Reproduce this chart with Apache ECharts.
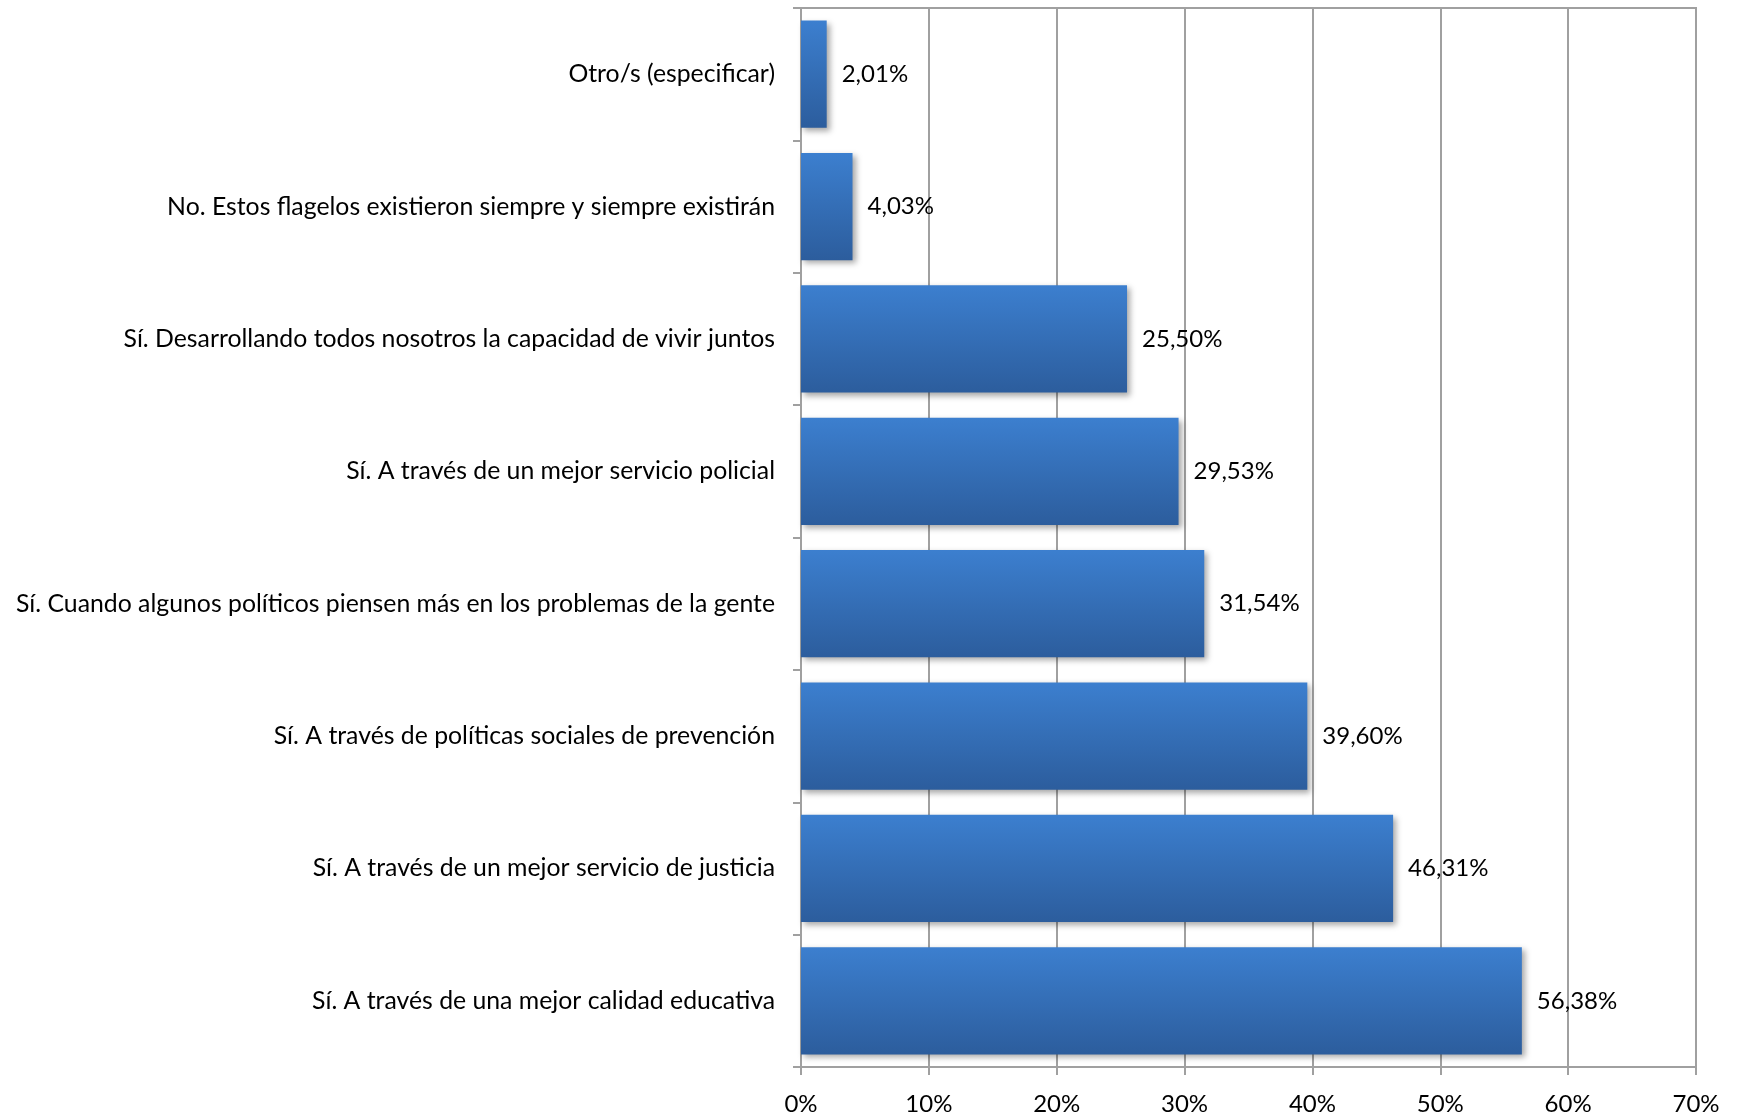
<!DOCTYPE html>
<html>
<head>
<meta charset="utf-8">
<script src="https://cdn.jsdelivr.net/npm/echarts@6/dist/echarts.min.js"></script>
<style>
  html, body { margin: 0; padding: 0; background: #fff; }
  #chart { width: 1738px; height: 1118px; }
</style>
</head>
<body>
<div id="chart"></div>
<script>
// Answers, listed bottom to top as they appear on the category axis
const categories = [
  "Sí. A través de una mejor calidad educativa",
  "Sí. A través de un mejor servicio de justicia",
  "Sí. A través de políticas sociales de prevención",
  "Sí. Cuando algunos políticos piensen más en los problemas de la gente",
  "Sí. A través de un mejor servicio policial",
  "Sí. Desarrollando todos nosotros la capacidad de vivir juntos",
  "No. Estos flagelos existieron siempre y siempre existirán",
  "Otro/s (especificar)"
];
const percentages = [56.38, 46.31, 39.60, 31.54, 29.53, 25.50, 4.03, 2.01];
const tickValues = [0, 10, 20, 30, 40, 50, 60, 70];

const fmtPct = v => v.toFixed(2).replace('.', ',') + '%';
const FONT = 'Lato, "Open Sans", sans-serif';

const chart = echarts.init(document.getElementById('chart'), null, { renderer: 'canvas' });
chart.setOption({
  animation: false,
  backgroundColor: '#ffffff',
  grid: {
    left: 801, right: 42, top: 8, bottom: 51,
    show: true, borderColor: '#a0a0a0', borderWidth: 2
  },
  xAxis: {
    type: 'value',
    min: tickValues[0],
    max: tickValues[tickValues.length - 1],
    interval: 10,
    axisLine: { show: true, lineStyle: { color: '#a0a0a0', width: 2 } },
    axisTick: { show: true, length: 8, lineStyle: { color: '#a0a0a0', width: 2 } },
    splitLine: { show: true, lineStyle: { color: '#a0a0a0', width: 2 } },
    axisLabel: {
      margin: 25, color: '#000', fontSize: 24, fontFamily: FONT,
      formatter: v => v + '%'
    }
  },
  yAxis: {
    type: 'category',
    data: categories,
    axisLine: { show: true, lineStyle: { color: '#a0a0a0', width: 2 } },
    axisTick: { show: true, length: 8, lineStyle: { color: '#a0a0a0', width: 2 } },
    axisLabel: { margin: 26, color: '#000', fontSize: 24.8, fontFamily: FONT }
  },
  series: [{
    type: 'bar',
    data: percentages,
    barCategoryGap: '19%',
    itemStyle: {
      color: new echarts.graphic.LinearGradient(0, 0, 0, 1, [
        { offset: 0, color: '#3c7fcf' },
        { offset: 1, color: '#2c5d9d' }
      ]),
      shadowColor: 'rgba(0,0,0,0.35)',
      shadowBlur: 6,
      shadowOffsetX: 3,
      shadowOffsetY: 3
    },
    label: {
      show: true,
      position: 'right',
      distance: 15,
      color: '#000',
      fontSize: 24,
      fontFamily: FONT,
      formatter: p => fmtPct(p.value)
    }
  }]
});
</script>
</body>
</html>
